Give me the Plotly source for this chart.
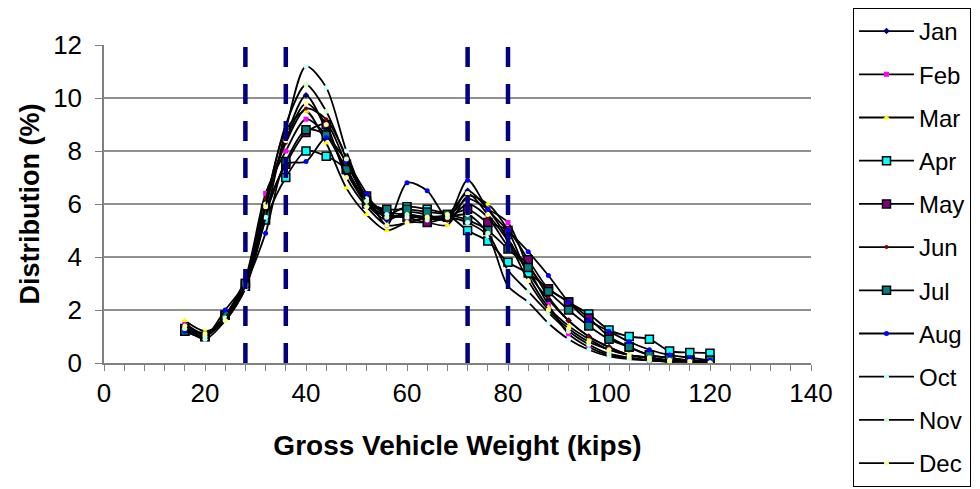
import plotly.graph_objects as go

weights = [16, 20, 24, 28, 32, 36, 40, 44, 48, 52, 56, 60, 64, 68, 72, 76, 80, 84, 88, 92, 96, 100, 104, 108, 112, 116, 120]

jan = [1.3, 1.1, 1.7, 3.0, 6.0, 8.5, 10.1, 8.8, 7.2, 6.0, 5.4, 5.7, 5.6, 5.4, 6.5, 5.8, 4.7, 3.4, 2.4, 1.6, 1.0, 0.6, 0.3, 0.2, 0.1, 0.1, 0.05]
feb = [1.5, 1.1, 1.8, 3.2, 6.4, 8.0, 9.2, 8.6, 7.3, 6.1, 5.5, 5.6, 5.5, 5.5, 6.2, 5.8, 5.3, 3.6, 2.2, 1.1, 0.6, 0.3, 0.2, 0.1, 0.05, 0.05, 0.0]
mar = [1.6, 1.2, 1.6, 3.0, 6.0, 8.8, 9.5, 8.3, 6.6, 5.6, 5.0, 5.3, 5.3, 5.2, 6.3, 6.0, 5.0, 3.3, 2.1, 1.4, 0.9, 0.5, 0.3, 0.2, 0.1, 0.1, 0.05]
apr = [1.2, 1.0, 1.8, 2.9, 5.4, 7.0, 8.0, 7.8, 7.3, 6.0, 5.6, 5.9, 5.8, 5.6, 5.0, 4.6, 3.8, 3.4, 2.8, 2.3, 1.85, 1.25, 1.0, 0.9, 0.45, 0.4, 0.37]
may = [1.3, 1.0, 1.8, 3.0, 5.8, 7.5, 8.7, 9.0, 7.5, 6.3, 5.6, 5.5, 5.3, 5.5, 5.8, 5.3, 5.0, 3.9, 2.8, 2.3, 1.7, 1.0, 0.6, 0.3, 0.2, 0.1, 0.1]
jun = [1.3, 1.1, 1.7, 3.1, 6.2, 8.3, 9.6, 9.2, 7.8, 6.2, 5.7, 5.6, 5.5, 5.4, 6.0, 5.5, 4.4, 3.7, 2.5, 1.6, 1.0, 0.6, 0.3, 0.2, 0.1, 0.1, 0.05]
jul = [1.2, 1.0, 1.8, 3.0, 5.6, 7.6, 8.8, 8.6, 7.3, 6.1, 5.8, 5.8, 5.7, 5.6, 5.4, 5.0, 4.3, 3.6, 2.7, 2.0, 1.4, 0.9, 0.6, 0.3, 0.2, 0.1, 0.1]
aug = [1.2, 1.0, 2.0, 3.0, 4.9, 7.5, 7.6, 8.5, 7.6, 6.4, 5.2, 6.8, 6.5, 5.5, 6.9, 5.8, 5.0, 4.2, 3.3, 2.3, 1.6, 1.2, 0.8, 0.5, 0.3, 0.2, 0.1]
oct_ = [1.3, 0.9, 1.6, 2.8, 5.5, 8.8, 11.2, 10.4, 8.0, 6.2, 5.6, 5.5, 5.5, 5.5, 5.3, 4.8, 2.9, 2.3, 1.5, 0.9, 0.5, 0.25, 0.15, 0.1, 0.05, 0.05, 0.0]
nov = [1.3, 1.0, 1.7, 3.0, 6.0, 9.0, 10.5, 9.5, 7.7, 6.1, 5.5, 5.6, 5.4, 5.5, 5.6, 4.9, 3.5, 2.7, 1.9, 1.2, 0.7, 0.35, 0.2, 0.1, 0.05, 0.05, 0.0]
dec = [1.4, 1.1, 1.6, 2.9, 5.9, 8.4, 9.8, 9.0, 7.0, 5.9, 5.2, 5.3, 5.5, 5.6, 6.4, 5.6, 4.6, 3.1, 2.0, 1.3, 0.8, 0.5, 0.3, 0.2, 0.1, 0.05, 0.0]

month_names = ["Jan", "Feb", "Mar", "Apr", "May", "Jun", "Jul", "Aug", "Oct", "Nov", "Dec"]
month_values = [jan, feb, mar, apr, may, jun, jul, aug, oct_, nov, dec]

marker_styles = [
    dict(symbol="diamond", color="#000080", size=5, line=dict(width=0)),
    dict(symbol="square", color="#FF00FF", size=5, line=dict(width=0)),
    dict(symbol="triangle-up", color="#FFFF00", size=6, line=dict(width=0)),
    dict(symbol="square", color="#00FFFF", size=8, line=dict(width=1.5, color="black")),
    dict(symbol="square", color="#800080", size=8, line=dict(width=1.5, color="black")),
    dict(symbol="circle", color="#800000", size=4, line=dict(width=0)),
    dict(symbol="square", color="#008080", size=8, line=dict(width=1.5, color="black")),
    dict(symbol="circle", color="#0000FF", size=5, line=dict(width=0)),
    dict(symbol="circle", color="#CCFFFF", size=5, line=dict(width=0)),
    dict(symbol="circle", color="#CCFFCC", size=5, line=dict(width=0)),
    dict(symbol="circle", color="#FFFF99", size=5, line=dict(width=0)),
]

threshold_weights = [28, 36, 72, 80]

fig = go.Figure()
for name, vals, mk in zip(month_names, month_values, marker_styles):
    fig.add_trace(go.Scatter(
        x=weights, y=vals, name=name, mode="lines+markers",
        line=dict(color="black", width=1.8, shape="spline", smoothing=0.8),
        marker=mk, legendgroup=name,
    ))

for xv in threshold_weights:
    fig.add_shape(type="line", x0=xv, x1=xv, y0=0, y1=12, xref="x", yref="y",
                  line=dict(color="#000080", width=4.5, dash="20px,17px"), layer="above")

font_family = "Liberation Sans, Arial, sans-serif"
fig.update_layout(
    width=980, height=489,
    margin=dict(l=96, r=177, t=37, b=134, autoexpand=False),
    paper_bgcolor="white", plot_bgcolor="white",
    font=dict(family=font_family, color="black"),
    showlegend=True,
    legend=dict(
        xref="container", yref="container", x=845/980, y=1,
        xanchor="left", yanchor="top",
        bordercolor="black", borderwidth=1, bgcolor="white",
        font=dict(size=24, family=font_family, color="black"),
        tracegroupgap=9, traceorder="grouped",
        itemwidth=55, maxheight=486,
    ),
    xaxis=dict(
        range=[0, 140], dtick=20, tick0=0, showgrid=False,
        showline=True, linecolor="#808080", linewidth=1.5,
        ticks="outside", ticklen=6, tickcolor="#808080", tickwidth=1,
        tickfont=dict(size=26), automargin=False,
        minor=dict(dtick=4, ticks="outside", ticklen=6, tickcolor="#808080", showgrid=False),
        title=dict(text="<b>Gross Vehicle Weight (kips)</b>", font=dict(size=28), standoff=28),
        zeroline=False,
    ),
    yaxis=dict(
        range=[0, 12], dtick=2, tick0=0, showgrid=True, gridcolor="#909090", gridwidth=1.5,
        showline=True, linecolor="#808080", linewidth=1.5,
        ticks="outside", ticklen=7, tickcolor="#808080",
        tickfont=dict(size=26), automargin=False, ticklabelstandoff=8,
        title=dict(text="<b>Distribution (%)</b>", font=dict(size=27), standoff=6),
        zeroline=False,
    ),
)

fig.write_html("out.html")
